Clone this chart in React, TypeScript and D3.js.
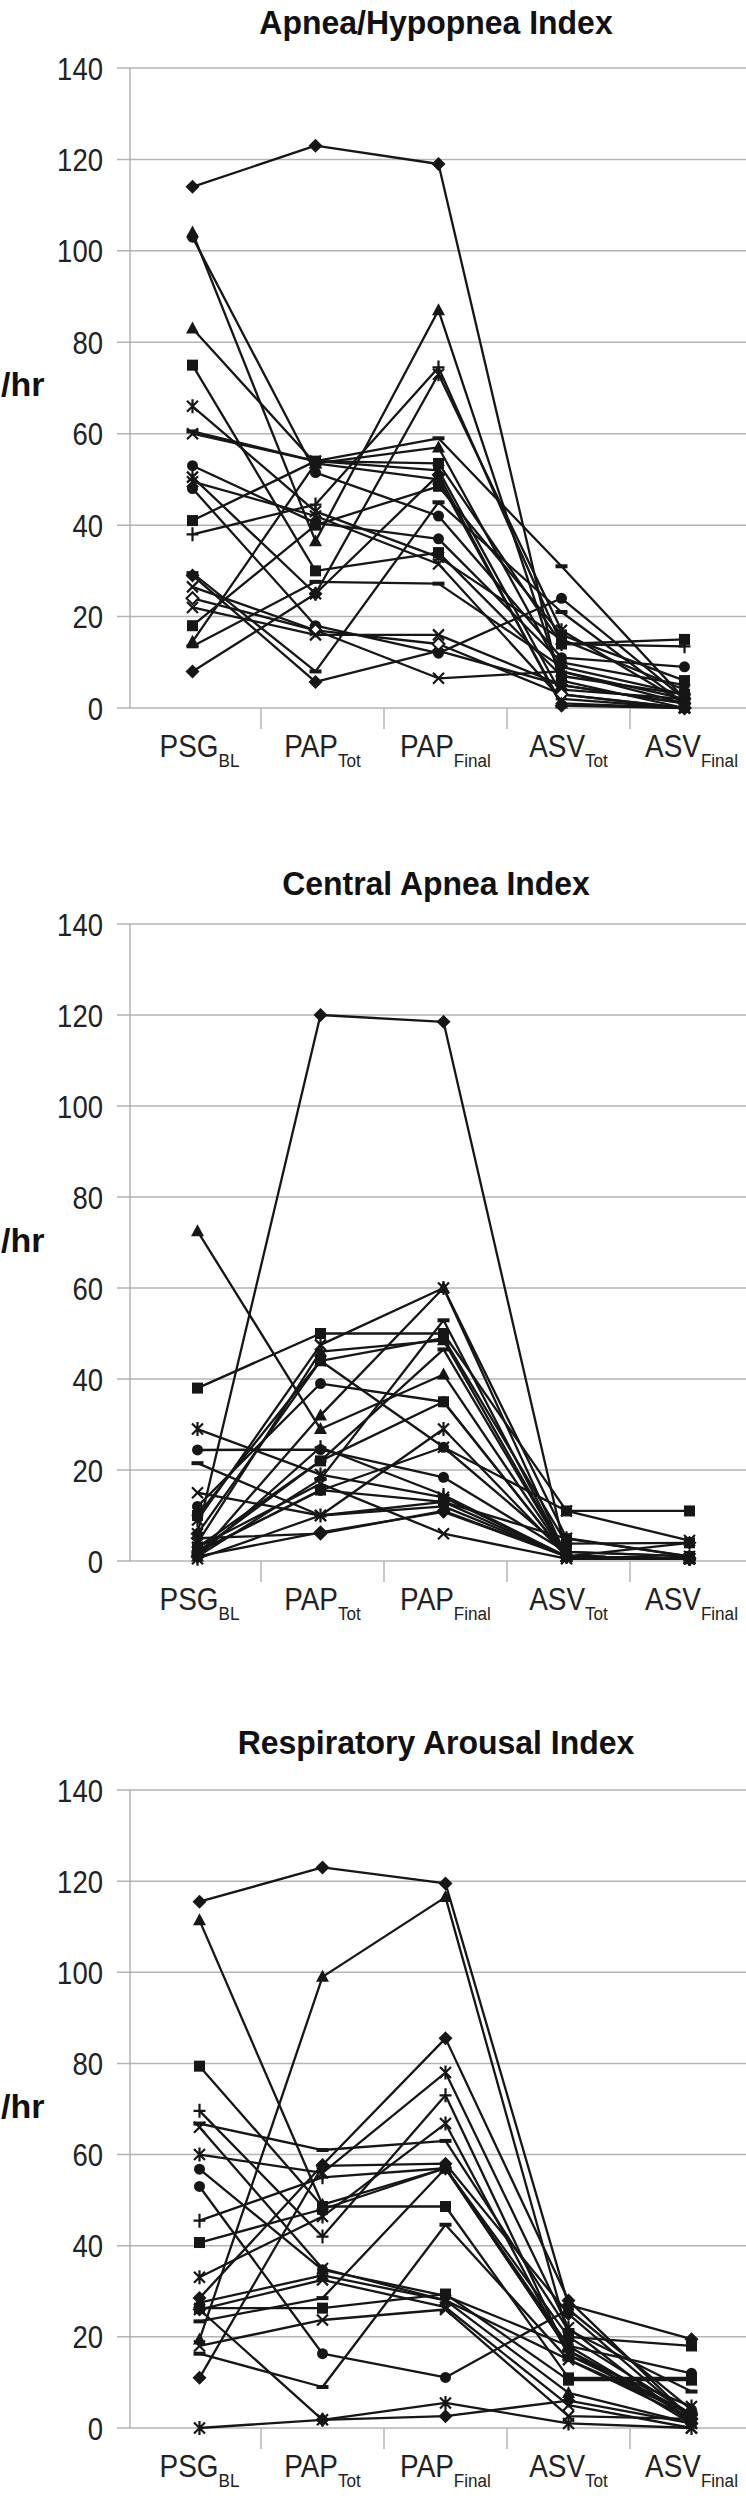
import React from 'react';
import * as d3 from 'd3';

const categories = ['PSG', 'PAP', 'PAP', 'ASV', 'ASV'];
const categorySubs = ['BL', 'Tot', 'Final', 'Tot', 'Final'];
const yTickValues = [0, 20, 40, 60, 80, 100, 120, 140];

// Apnea/Hypopnea Index
const ahiMarkers = ['diamond','triangle','circle','triangle','square','asterisk','x','dash','circle','asterisk','x','circle','square','plus','dash','diamond','x','odiamond','x','square','triangle','dash','diamond'];
const ahiBL = [114,104,103,83,75,66,60,60.5,53,50.5,49.5,48,41,38,29.5,29,26.5,24,22,18,14.5,13.5,8];
const ahiPapTot = [123,36.5,51.5,53.5,30,43,54,54,40.5,25,42,18,54,44.5,8,5.7,17,17,16,40,53.5,27.6,25];
const ahiPapFinal = [119,87,42,57,34,33,52,59,37,73,31.5,12,53.5,74.5,45,12.5,6.5,14,16,48.5,50,27.2,51];
const ahiAsvTot = [4,6,11,8,7,15,3,31,10,17,2,24,14,14,21,5,8,3,5,16,1,9,0.5];
const ahiAsvFinal = [2,0,9,1,3,4,0,2,5,1,0,2,15,13.5,1,1,2,0,1,6,0,3,0];

// Central Apnea Index
const caiMarkers = ['diamond','triangle','square','asterisk','circle','dash','x','circle','square','asterisk','diamond','triangle','x','dash','dash','square','triangle','circle','asterisk','x','plus','square','diamond'];
const caiBL = [6,72.5,38,29,24.4,21.5,15,12,10,9,5,4,3,2,1,3,1,2,0.5,6,1,2,1];
const caiPapTot = [120,29,50,19,24.5,10,10,39,44,47.5,6,46,17,22,18,22,32,15.5,10,44,25,15.6,6.3];
const caiPapFinal = [118.5,41,50,14,18.4,13,12,35,49,60,11,48.5,6,46.5,52.9,35,60,25,29,25,14.5,13,10.8];
const caiAsvTot = [1,1,11,1,2,1,1,1,3.8,5,1,1,0.5,1,1,1,1,2,1,11,1,4.9,1];
const caiAsvFinal = [0.5,0.5,11,0.5,1,0.5,0.5,0.5,4,1,0.5,0.5,0.5,0.5,0.5,0.5,0.5,1,0.5,4.5,0.5,1,4];

// Respiratory Arousal Index
const raiMarkers = ['diamond','triangle','triangle','square','plus','dash','x','asterisk','circle','circle','plus','square','asterisk','diamond','triangle','square','diamond','dash','x','dash','diamond','asterisk','x'];
const raiBL = [115.5,111.4,19.4,79.4,69.6,66.8,66,60,56.8,53,45.5,40.7,33.1,28.5,27.5,26.3,26,23.4,18,16.3,11,0,26];
const raiPapTot = [123,49,99,48.6,42,61,35,56,34.7,16.3,55,48,46.4,57.7,33.5,26.3,1.8,28.5,23.7,9,57.5,1.8,32.5];
const raiPapFinal = [119.5,57,116.5,48.6,73,63,28,78,29,11.1,57,57,66.8,85.5,28,29.4,2.6,57,26,44.6,58,5.5,26.5];
const raiAsvTot = [27,18,20,11,16,21.5,15,22,18,26,17,20,16,28,7.7,10.5,6,17,2.6,15,25,1,5];
const raiAsvFinal = [19.5,2,3,11,3,8,2,1,12,4,1,18,4.7,2,1,10.5,1,3,2,3,2,0,0];

const panels = [
  { title: 'Apnea/Hypopnea Index', markers: ahiMarkers, cols: [ahiBL, ahiPapTot, ahiPapFinal, ahiAsvTot, ahiAsvFinal], y0: 708, y140: 68, titleY: 34, xShift: -7 },
  { title: 'Central Apnea Index', markers: caiMarkers, cols: [caiBL, caiPapTot, caiPapFinal, caiAsvTot, caiAsvFinal], y0: 1561, y140: 924, titleY: 895, xShift: -2 },
  { title: 'Respiratory Arousal Index', markers: raiMarkers, cols: [raiBL, raiPapTot, raiPapFinal, raiAsvTot, raiAsvFinal], y0: 2428, y140: 1790, titleY: 1754, xShift: 0 },
];

const INK = '#161616';
const FONT = "'Liberation Sans', Arial, Helvetica, sans-serif";

function Marker({ type, cx, cy }: { type: string; cx: number; cy: number }) {
  const t = `translate(${cx},${cy})`;
  switch (type) {
    case 'diamond':
      return <path transform={t} d="M0,-7L7,0L0,7L-7,0Z" fill={INK} />;
    case 'odiamond':
      return <path transform={t} d="M0,-6L6,0L0,6L-6,0Z" fill="#fff" stroke={INK} strokeWidth={2} />;
    case 'square':
      return <rect transform={t} x={-5.5} y={-5.5} width={11} height={11} fill={INK} />;
    case 'triangle':
      return <path transform={t} d="M0,-7L6.5,5L-6.5,5Z" fill={INK} />;
    case 'circle':
      return <circle cx={cx} cy={cy} r={5.5} fill={INK} />;
    case 'x':
      return <path transform={t} d="M-5.5,-5.5L5.5,5.5M-5.5,5.5L5.5,-5.5" stroke={INK} strokeWidth={2.2} fill="none" />;
    case 'asterisk':
      return <path transform={t} d="M-5.5,-5.5L5.5,5.5M-5.5,5.5L5.5,-5.5M0,-7L0,7" stroke={INK} strokeWidth={2.2} fill="none" />;
    case 'plus':
      return <path transform={t} d="M-6,0L6,0M0,-7L0,7" stroke={INK} strokeWidth={2.2} fill="none" />;
    case 'dash':
      return <rect transform={t} x={-6} y={-2} width={12} height={4} fill={INK} />;
    default:
      return null;
  }
}

function Panel({ cfg }: { cfg: any }) {
  const x = d3.scaleBand<number>().domain(d3.range(categories.length)).range([138, 753]);
  const y = d3.scaleLinear().domain([0, 140]).range([cfg.y0, cfg.y140]);
  const xc = (i: number) => (x(i) as number) + x.bandwidth() / 2 + cfg.xShift;
  const series = cfg.markers.map((m: string, s: number) => ({
    marker: m,
    values: cfg.cols.map((col: number[]) => col[s]),
  }));
  const line = d3.line<number>().x((_d, i) => xc(i)).y((d) => y(d));
  const boundaries = d3.range(1, categories.length).map((i) => x(i) as number);
  const axisX = 130;

  return (
    <g>
      <text
        transform={`translate(436,${cfg.titleY}) scale(0.94,1)`}
        textAnchor="middle"
        fontFamily={FONT}
        fontWeight="bold"
        fontSize={34}
        fill="#111"
      >
        {cfg.title}
      </text>
      {yTickValues.map((v) => (
        <g key={v}>
          <line x1={axisX - 13} x2={746} y1={y(v)} y2={y(v)} stroke="#b4b4b4" strokeWidth={1.5} />
          <text
            transform={`translate(103,${y(v) + 11.5}) scale(0.86,1)`}
            textAnchor="end"
            fontFamily={FONT}
            fontSize={32}
            fill="#222"
          >
            {v}
          </text>
        </g>
      ))}
      <line x1={axisX} x2={axisX} y1={y(140)} y2={y(0)} stroke="#a0a0a0" strokeWidth={1.2} />
      {boundaries.map((bx, i) => (
        <line key={i} x1={bx} x2={bx} y1={y(0)} y2={y(0) + 21} stroke="#b4b4b4" strokeWidth={1.5} />
      ))}
      <text x={1} y={cfg.y140 + 328} fontFamily={FONT} fontWeight="bold" fontSize={34} fill="#111">
        /hr
      </text>
      {categories.map((c, i) => (
        <text
          key={i}
          transform={`translate(${(x(i) as number) + x.bandwidth() / 2},${y(0) + 49}) scale(0.9,1)`}
          textAnchor="middle"
          fontFamily={FONT}
          fontSize={31}
          fill="#222"
        >
          {c}
          <tspan fontSize={19} dy={10}>{categorySubs[i]}</tspan>
        </text>
      ))}
      {series.map((s: any, k: number) => (
        <path key={'l' + k} d={line(s.values) || ''} fill="none" stroke={INK} strokeWidth={2.3} strokeLinejoin="round" />
      ))}
      {series.map((s: any, k: number) => (
        <g key={'m' + k}>
          {s.values.map((v: number, i: number) => (
            <Marker key={i} type={s.marker} cx={xc(i)} cy={y(v)} />
          ))}
        </g>
      ))}
    </g>
  );
}

export default function App() {
  return (
    <svg
      width={746}
      height={2504}
      viewBox="0 0 746 2504"
      style={{ position: 'absolute', left: 0, top: 0, display: 'block', background: '#fff' }}
    >
      <rect x={0} y={0} width={746} height={2504} fill="#fff" />
      {panels.map((p, i) => (
        <Panel key={i} cfg={p} />
      ))}
    </svg>
  );
}
